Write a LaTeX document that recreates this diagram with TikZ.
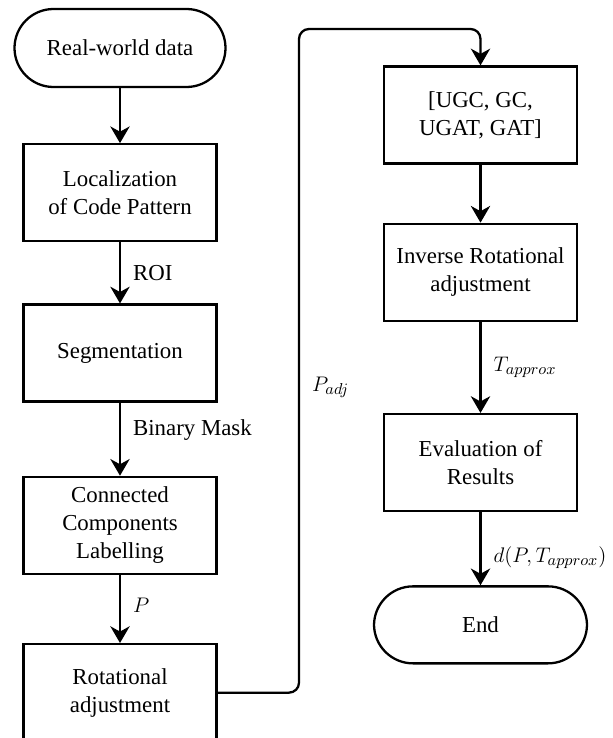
\documentclass[tikz,border=0pt]{standalone}
\usepackage{fontspec}
\setmainfont{Liberation Serif}
\usetikzlibrary{arrows.meta,positioning}

\begin{document}
\begin{tikzpicture}[->,>={Stealth[length=9.5pt,width=11pt,inset=3pt]},line width=1.3pt,
                    node distance=1.3cm,font=\fontsize{13}{16}\selectfont]
  \tikzstyle{every node}=[text=black]
  \tikzstyle{box}=[draw,-,align=center,minimum width=3.86cm,minimum height=1.94cm,inner sep=2pt]
  \tikzstyle{term}=[draw,-,align=center,rounded corners=0.78cm,minimum width=4.22cm,minimum height=1.56cm]
  \tikzstyle{lab}=[right,inner sep=0pt,xshift=0.24cm]

  \useasboundingbox (0,0) rectangle (12.24,-14.76);

  \node[term]  (start) at (2.4,-0.96)        {Real-world data};
  \node[box]   (loc)  [below=1.1cm of start]  {Localization\\of Code Pattern};
  \node[box]   (seg)  [below=1.22cm of loc]   {Segmentation};
  \node[box]   (ccl)  [below=1.46cm of seg]   {Connected\\Components\\Labelling};
  \node[box]   (rot)  [below=1.36cm of ccl]   {Rotational\\adjustment};

  \node[box]   (ugc)  at (9.61,-2.3)          {[UGC, GC,\\UGAT, GAT]};
  \node[box]   (inv)  [below=1.16cm of ugc]   {Inverse Rotational\\adjustment};
  \node[box]   (eval) [below=1.82cm of inv]   {Evaluation of\\Results};
  \node[term]  (end)  [below=1.46cm of eval,minimum width=4.26cm,minimum height=1.54cm] {End};

  \coordinate (bend) at (5.98,-0.58);

  \path (start) edge              node {}  (loc)
        (loc)   edge              node[lab] {ROI}  (seg)
        (seg)   edge              node[lab,pos=0.38] {Binary Mask} (ccl)
        (ccl)   edge              node[lab,pos=0.45] {$P$}  (rot)
        (ugc)   edge              node {}  (inv)
        (inv)   edge              node[lab] {$T_{approx}$}  (eval)
        (eval)  edge              node[lab,pos=0.62] {$d(P,T_{approx})$}  (end);

  \draw[rounded corners=0.2cm] (rot.east) -| node[lab,pos=0.73] {$P_{adj}$} (bend) -| (ugc.north);
\end{tikzpicture}
\end{document}
